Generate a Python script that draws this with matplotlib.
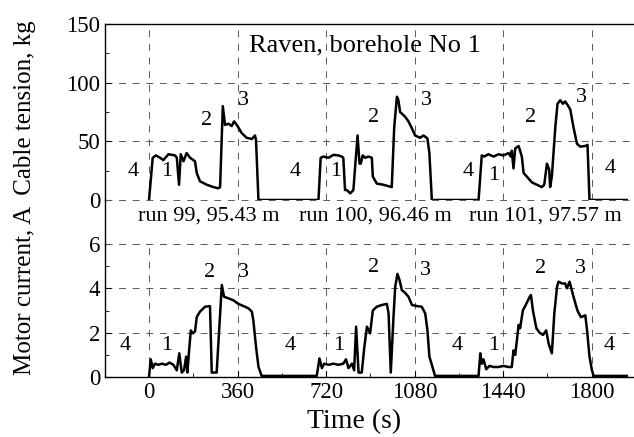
import matplotlib
matplotlib.use("Agg")
import matplotlib.pyplot as plt
from matplotlib.lines import Line2D
from matplotlib.ticker import MultipleLocator

plt.rcParams['font.family'] = ['Liberation Serif', 'DejaVu Serif']

# cable tension (kg) vs time (s)
t_tension = [0, 15, 28, 45, 58, 79, 106, 113, 122, 129, 140, 153, 167, 187, 194, 207, 235, 262, 282, 289,
             300, 309, 323, 336, 346, 357, 377, 397, 418, 431, 435, 445, 689,
             698, 709, 730, 750, 770, 784, 790, 797, 804, 818, 831, 838, 848, 856, 861, 869, 879, 892, 906,
             910, 926, 953, 987, 997, 1008, 1014, 1021, 1041, 1055, 1069, 1082, 1102, 1116, 1132, 1140, 1150, 1340,
             1353, 1363, 1380, 1401, 1421, 1441, 1462, 1471, 1475, 1482, 1489, 1503, 1516, 1523, 1536, 1557,
             1577, 1597, 1607, 1618, 1627, 1631, 1638, 1652, 1661, 1672, 1683, 1692, 1702, 1713, 1726, 1740,
             1753, 1774, 1783, 1791, 1943]
tension = [0, 36, 38, 36, 34, 39, 38, 36, 13, 39, 33, 40, 36, 33, 23, 16, 13, 11, 10, 11,
           80, 64, 65, 63, 67, 64, 57, 53, 52, 55, 51, 0, 0,
           36, 37, 36, 38.5, 38, 37, 36, 8.5, 8.5, 5.7, 8.5, 28, 55, 31, 31, 38, 36, 37, 36,
           20, 14, 13, 11, 62, 88, 85, 75, 71, 67, 61, 55, 53, 55, 52.5, 40, 0, 0,
           38, 37, 39, 37, 39, 38, 40, 37, 42, 27, 44, 46, 37, 23, 20, 15,
           13, 11, 13, 31, 26, 11, 20, 62, 82, 85, 82, 84, 81, 77, 62, 48,
           45.5, 46, 47, 0, 0]

# motor current (A) vs time (s)
t_current = [0, 7, 15, 24, 38, 52, 69, 83, 99, 113, 123, 133, 142, 151, 156, 163, 170, 178, 187, 194,
             207, 228, 248, 255, 275, 296, 305, 323, 343, 363, 384, 404, 418, 424, 435, 445, 458, 682,
             693, 703, 712, 730, 750, 770, 790, 801, 811, 825, 834, 842, 852, 865, 875, 886, 899, 910,
             926, 947, 967, 974, 983, 994, 1001, 1010, 1018, 1028, 1041, 1055, 1069, 1089, 1109, 1123,
             1132, 1140, 1150, 1163, 1340, 1347, 1353, 1360, 1371, 1384, 1401, 1421, 1441, 1462, 1475,
             1482, 1489, 1503, 1509, 1520, 1534, 1548, 1553, 1561, 1575, 1588, 1602, 1615, 1625, 1638,
             1648, 1659, 1665, 1679, 1692, 1699, 1710, 1726, 1742, 1756, 1774, 1781, 1791, 1801, 1808, 1943]
current = [0, 0.8, 0.4, 0.6, 0.55, 0.6, 0.55, 0.65, 0.55, 0.3, 1.07, 0.2, 0.3, 0.92, 0.2, 1.2, 2.1, 1.97, 2.05, 2.7,
           2.95, 3.17, 3.2, 0.2, 0.2, 4.15, 3.62, 3.55, 3.46, 3.3, 3.2, 3.1, 2.95, 2.57, 1.37, 0.46, 0.05, 0.05,
           0.84, 0.4, 0.6, 0.55, 0.6, 0.55, 0.6, 0.8, 0.4, 0.6, 0.3, 2.27, 0.2, 0.2, 1.3, 2.27, 1.97, 3.0,
           3.17, 3.25, 3.3, 2.87, 0.2, 2.7, 4.07, 4.65, 4.4, 3.92, 3.8, 3.62, 3.25, 3.2, 3.17, 2.87,
           2.12, 0.92, 0.55, 0.05, 0.05, 1.07, 0.6, 0.8, 0.35, 0.5, 0.45, 0.45, 0.5, 0.45, 0.45,
           1.2, 1.0, 2.35, 2.2, 3.0, 3.3, 3.62, 3.7, 3.0, 2.2, 2.0, 1.9, 2.1, 1.5, 1.07,
           2.87, 4.07, 4.3, 4.22, 4.22, 4.0, 4.3, 3.62, 3.0, 2.7, 2.78, 2.12, 0.92, 0.3, 0.05, 0.05]

# phase numbers written on the curves
phase_top = [("4", -65, 24), ("1", 73, 24), ("2", 236, 68), ("3", 383, 85),
             ("4", 594, 24), ("1", 757, 24), ("2", 911, 70), ("3", 1127, 85),
             ("4", 1298, 24), ("1", 1400, 21), ("2", 1550, 70), ("3", 1758, 87), ("4", 1875, 27)]
phase_bottom = [("4", -98, 1.44), ("1", 72, 1.44), ("2", 245, 4.7), ("3", 383, 4.7),
                ("4", 576, 1.44), ("1", 773, 1.44), ("2", 911, 4.95), ("3", 1123, 4.8),
                ("4", 1252, 1.44), ("1", 1400, 1.44), ("2", 1591, 4.9), ("3", 1756, 4.9), ("4", 1871, 1.44)]
run_labels = [("run 99, 95.43 m", 244), ("run 100, 96.46 m", 919), ("run 101, 97.57 m", 1610)]
x_ticks = [0, 360, 720, 1080, 1440, 1800]

W, H = 634, 437
fig = plt.figure(figsize=(W / 100, H / 100), dpi=100)
left = 105 / W
ax_top = fig.add_axes([left, 1 - 200 / H, 1 - left, 176 / H])
ax_bot = fig.add_axes([left, 1 - 377 / H, 1 - left, 133 / H])

grid_kw = dict(color='0.35', lw=0.7, linestyle=(0, (7, 7)))

for ax in (ax_top, ax_bot):
    ax.set_xlim(-179, 1972)
    ax.set_xticks(x_ticks)
    ax.xaxis.set_minor_locator(MultipleLocator(180))
    ax.spines['right'].set_visible(False)
    ax.tick_params(which='both', direction='in', labelsize=16.5, top=False, right=False)
    ax.tick_params(which='major', length=4, width=0.8)
    ax.tick_params(which='minor', length=3, width=0.6)
    for s in ax.spines.values():
        s.set_linewidth(1.0)
    ax.grid(True, which='major', **grid_kw)

ax_top.spines['bottom'].set_visible(False)
ax_bot.spines['top'].set_visible(False)

ax_top.plot(t_tension, tension, color='k', lw=1.8)
ax_top.set_ylim(0, 150)
ax_top.set_yticks([0, 50, 100, 150])
ax_top.yaxis.set_minor_locator(MultipleLocator(25))
ax_top.tick_params(axis='x', which='both', labelbottom=False, bottom=False)
ax_top.axhline(0, clip_on=False, **grid_kw)
ax_top.text(878, 132, "Raven, borehole No 1", ha='center', va='center', fontsize=19)
for txt, x, y in phase_top:
    ax_top.text(x, y, txt, ha='center', va='center', fontsize=16)
for txt, x in run_labels:
    ax_top.text(x, -13.6, txt, ha='center', va='center', fontsize=16, clip_on=False)

ax_bot.plot(t_current, current, color='k', lw=1.8)
ax_bot.set_ylim(0, 6)
ax_bot.set_yticks([0, 2, 4, 6])
ax_bot.yaxis.set_minor_locator(MultipleLocator(1))
ax_bot.axhline(6, clip_on=False, **grid_kw)
for txt, x, y in phase_bottom:
    ax_bot.text(x, y, txt, ha='center', va='center', fontsize=16)

# left spine continues through the gap between the panels
fig.add_artist(Line2D([left, left], [1 - 244 / H, 1 - 200 / H], transform=fig.transFigure, color='k', lw=1.0))

fig.text(25 / W, 1 - 198 / H, "Motor current, A  Cable tension, kg", rotation=90,
         ha='center', va='center', fontsize=18)
fig.text(354 / W, 1 - 422 / H, "Time (s)", ha='center', va='center', fontsize=20)

fig.savefig("out.png", dpi=100)
